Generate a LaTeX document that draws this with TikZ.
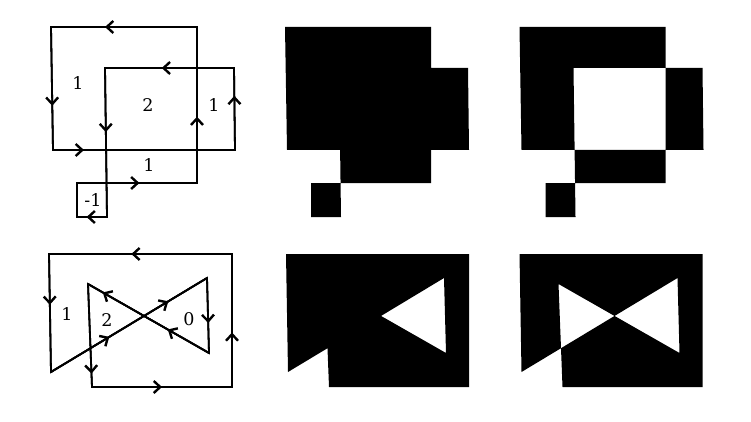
\documentclass[tikz,border=0pt]{standalone}
\usepackage{fontspec}
\setmainfont{DejaVu Serif}
\usetikzlibrary{arrows.meta,decorations.markings}

% the two closed curves, in pixel units
\newcommand{\loopTop}{(197,27) -- (51,27) -- (53,150) -- (235,150) -- (234,68) -- (105,68) -- (107,217) -- (77,217) -- (77,183) -- (197,183) -- cycle}
\newcommand{\loopBottom}{(232,254) -- (49,254) -- (51,372) -- (207,278) -- (209,353) -- (88,284) -- (92,387) -- (232,387) -- cycle}

\tikzset{
  wire/.style={line width=1.8pt},
  flow/.style={wire, postaction={decorate},
    decoration={markings, mark=at position #1 with {\arrow{Straight Barb[length=6.5pt,width=12pt,line width=2.4pt]}}}},
  winding/.style={font=\fontsize{17.5}{20}\selectfont, inner sep=0pt},
}

\begin{document}
\begin{tikzpicture}[x=1pt,y=-1pt]
    \useasboundingbox (0,0) rectangle (751,422);

    % top row: oriented curve
    \draw[wire] \loopTop;
    \draw[flow=0.63]  (197,27) -- (51,27);
    \draw[flow=0.64]  (51,27) -- (53,150);
    \draw[flow=0.17]  (53,150) -- (235,150);
    \draw[flow=0.66]  (235,150) -- (234,68);
    \draw[flow=0.56]  (234,68) -- (105,68);
    \draw[flow=0.43]  (105,68) -- (107,217);
    \draw[flow=0.68]  (107,217) -- (77,217);
    \draw[flow=0.52]  (77,183) -- (197,183);
    \draw[flow=0.425] (197,183) -- (197,27);
    \node[winding] (t1) at (78,83)   {1};
    \node[winding] (t2) at (148,105) {2};
    \node[winding] (t3) at (214,105) {1};
    \node[winding] (t4) at (149,165) {1};
    \node[winding] (t5) at (93,200)  {-1};

    % top row: nonzero and even odd fills
    \fill[xshift=234pt] \loopTop;
    \fill[even odd rule,xshift=468.5pt] \loopTop;

    % bottom row: oriented curve
    \draw[wire] \loopBottom;
    \draw[flow=0.55]  (232,254) -- (49,254);
    \draw[flow=0.43]  (49,254) -- (51,372);
    \draw[flow=0.374] (51,372) -- (207,278);
    \draw[flow=0.752] (51,372) -- (207,278);
    \draw[flow=0.6]   (207,278) -- (209,353);
    \draw[flow=0.341] (209,353) -- (88,284);
    \draw[flow=0.878] (209,353) -- (88,284);
    \draw[flow=0.87]  (88,284) -- (92,387);
    \draw[flow=0.5]   (92,387) -- (232,387);
    \draw[flow=0.41]  (232,387) -- (232,254);
    \node[winding] (b1) at (67,314)  {1};
    \node[winding] (b2) at (107,320) {2};
    \node[winding] (b3) at (189,319) {0};

    % bottom row: nonzero and even odd fills
    \fill[xshift=237pt] \loopBottom;
    \fill[even odd rule,xshift=470.5pt] \loopBottom;
\end{tikzpicture}
\end{document}
